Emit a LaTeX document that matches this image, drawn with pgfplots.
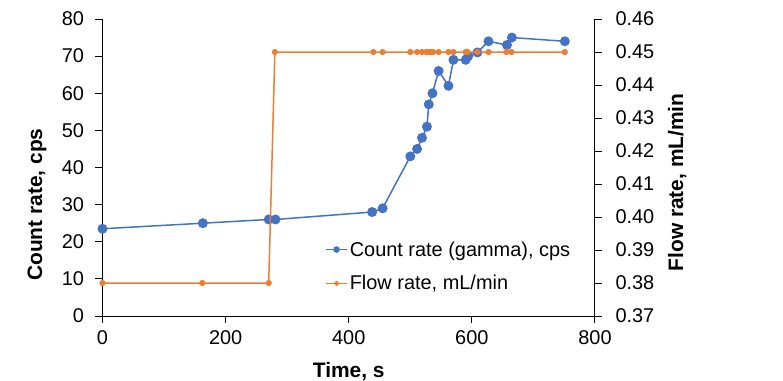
\documentclass[border=0pt]{standalone}
\usepackage{pgfplots}
\pgfplotsset{compat=1.18}
\usepackage{fontspec}
\setmainfont{Liberation Sans}
\definecolor{xlblue}{HTML}{4472C4}
\definecolor{xlorange}{HTML}{ED7D31}
\begin{document}
\begin{tikzpicture}
\pgfplotsset{
  common/.style={
    scale only axis, width=492.5bp, height=297bp,
    at={(0,0)}, anchor=south west,
    xmin=0, xmax=800, clip=false,
    tick align=outside, major tick length=7bp,
    every tick/.style={black, line width=1bp},
    axis line style={black, line width=1bp},
    tick label style={font=\fontsize{20}{24}\selectfont},
    label style={font=\fontsize{21}{25}\selectfont\bfseries},
    /pgf/number format/assume math mode=true,
  },
}
\begin{axis}[common,
  axis x line*=bottom, axis y line*=left,
  ymin=0, ymax=80, ytick={0,10,...,80},
  xtick={0,200,...,800},
  xticklabel shift=4bp, yticklabel shift=8bp,
  xlabel={Time, s},
  ylabel={Count rate, cps},
  xlabel style={at={(axis description cs:0.5,-0.207)}, anchor=base},
  ylabel style={at={(axis description cs:-0.1228,0.375)}, anchor=base},
]
\addplot[color=xlblue, line width=1.5bp, mark=*, mark size=4.2bp,
  mark options={fill=xlblue, draw=xlblue}] coordinates {
(0,23.5) (163,25) (270,26) (281,26) (438,28) (455,29) (500,43) (511,45)
(519,48) (527,51) (530,57) (536,60) (546,66) (562,62) (570,69) (590,69)
(594,70) (609,71) (627,74) (657,73) (665,75) (751,74)
};
\end{axis}
\begin{axis}[common,
  axis x line=none, axis y line*=right,
  ymin=0.37, ymax=0.46, ytick={0.37,0.38,...,0.46},
  yticklabel shift=10bp,
  yticklabel style={/pgf/number format/.cd, fixed, fixed zerofill, precision=2},
  ylabel={Flow rate, mL/min},
  ylabel style={at={(axis description cs:1.179,0.45)}, anchor=base},
  legend style={draw=none, fill=none, at={(axis description cs:0.452,0.1667)},
    anchor=west, font=\fontsize{20}{24}\selectfont, row sep=14bp,
    inner sep=0pt},
  legend cell align=left,
  legend image code/.code={\draw[mark repeat=2,mark phase=2,#1] plot coordinates {(0bp,0bp) (10.5bp,0bp) (21bp,0bp)};},
]
\addlegendimage{color=xlblue, line width=1.5bp, mark=*, mark size=2.5bp, mark options={fill=xlblue, draw=xlblue}}
\addlegendentry{Count rate (gamma), cps}
\addlegendimage{color=xlorange, line width=1.5bp, mark=*, mark size=1.7bp, mark options={fill=xlorange, draw=xlorange}}
\addlegendentry{Flow rate, mL/min}
\addplot[forget plot, color=xlorange, line width=1.5bp, mark=*, mark size=2.3bp,
  mark options={fill=xlorange, draw=xlorange}] coordinates {
(0,0.38) (162,0.38) (270,0.38) (280,0.45) (440,0.45) (455,0.45) (500,0.45)
(511,0.45) (519,0.45) (526,0.45) (530,0.45) (534,0.45) (537,0.45) (546,0.45)
(562,0.45) (570,0.45) (590,0.45) (593,0.45) (609,0.45) (627,0.45) (656,0.45)
(664,0.45) (751,0.45)
};
\end{axis}
\pgfresetboundingbox
\useasboundingbox (-102.5bp,-65bp) rectangle (680.5bp,316bp);
\end{tikzpicture}
\end{document}
